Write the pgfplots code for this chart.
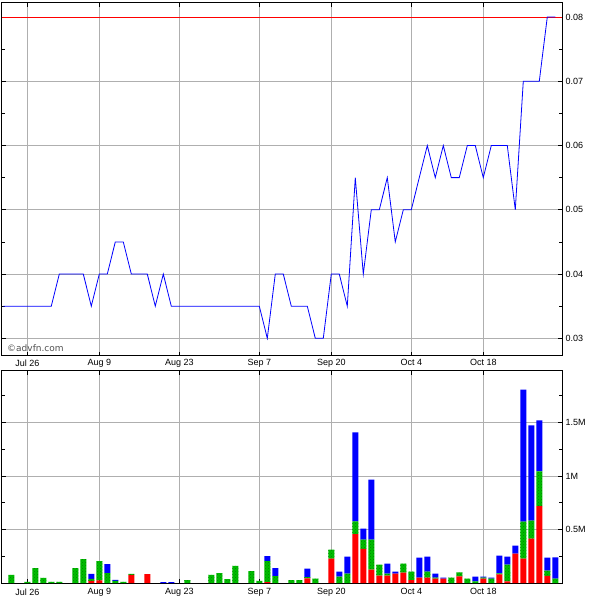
\documentclass[border=0pt]{standalone}
\usepackage{pgfplots}
\pgfplotsset{compat=1.18}
\usepackage{pgfplotstable}
\usetikzlibrary{patterns}
\usepackage{fontspec}
\setmainfont{Liberation Sans}
\setsansfont{Liberation Sans}
\newfontfamily\dejavu{DejaVu Sans}
\definecolor{vgreen}{RGB}{0,190,0}
\definecolor{vdots}{RGB}{0,130,0}
\definecolor{gridc}{RGB}{175,175,175}
\definecolor{copyc}{RGB}{80,80,80}

\pgfplotstableread{
k p
0 0.035
1 0.035
2 0.035
3 0.035
4 0.035
5 0.035
6 0.035
7 0.04
8 0.04
9 0.04
10 0.04
11 0.035
12 0.04
13 0.04
14 0.045
15 0.045
16 0.04
17 0.04
18 0.04
19 0.035
20 0.04
21 0.035
22 0.035
23 0.035
24 0.035
25 0.035
26 0.035
27 0.035
28 0.035
29 0.035
30 0.035
31 0.035
32 0.035
33 0.03
34 0.04
35 0.04
36 0.035
37 0.035
38 0.035
39 0.03
40 0.03
41 0.04
42 0.04
43 0.035
44 0.055
45 0.04
46 0.05
47 0.05
48 0.055
49 0.045
50 0.05
51 0.05
52 0.055
53 0.06
54 0.055
55 0.06
56 0.055
57 0.055
58 0.06
59 0.06
60 0.055
61 0.06
62 0.06
63 0.06
64 0.05
65 0.07
66 0.07
67 0.07
68 0.08
69 0.08
}\price

\pgfplotstableread{
k r g b
0 0 0 0
1 0 0.075 0
2 0 0 0
3 0 0.01 0
4 0 0.14 0
5 0 0.047 0
6 0 0.01 0
7 0 0.01 0
8 0 0 0
9 0 0.14 0
10 0 0.224 0
11 0.019 0.019 0.047
12 0.025 0.18 0
13 0 0.093 0.084
14 0 0.019 0.01
15 0 0.01 0
16 0.075 0.01 0
17 0 0 0
18 0.084 0 0
19 0 0 0
20 0 0 0.008
21 0 0 0.008
22 0 0 0
23 0 0.028 0
24 0 0 0
25 0 0 0
26 0 0.075 0
27 0 0.093 0
28 0 0.037 0
29 0 0.159 0
30 0 0 0
31 0 0.112 0
32 0 0.019 0
33 0.008 0.196 0.047
34 0 0.065 0.075
35 0 0 0
36 0 0.028 0
37 0 0.028 0
38 0.044 0.01 0.081
39 0 0.04 0
40 0 0 0
41 0.227 0.084 0
42 0 0.06 0.047
43 0 0.087 0.159
44 0.456 0.119 0.832
45 0.32 0.085 0.103
46 0.125 0.28 0.562
47 0.069 0.103 0
48 0.069 0.019 0.093
49 0.087 0 0.019
50 0.097 0.084 0
51 0.028 0.078 0
52 0.05 0 0.187
53 0.05 0.056 0.14
54 0.04 0.01 0.037
55 0.04 0 0.01
56 0 0.05 0
57 0.062 0.037 0
58 0 0.04 0
59 0 0.016 0.044
60 0.04 0.01 0.01
61 0 0.04 0.01
62 0.081 0.01 0.165
63 0.016 0.156 0.075
64 0.274 0 0.075
65 0.227 0.346 1.235
66 0.414 0.169 0.889
67 0.718 0.324 0.477
68 0.066 0.05 0.121
69 0 0.04 0.2
}\vol

\pgfplotsset{
  advstyle/.style={
    scale only axis,
    width=560pt,
    xmin=-0.1625, xmax=69.84,
    xtick={3,12,22,32,41,51,60},
    grid=major,
    major grid style={gridc, line width=0.7pt},
    axis line style={line width=1pt},
    tick style={black, line width=0.6pt},
    major tick length=4pt, minor tick length=3pt,
    ticklabel style={font=\fontsize{9}{10}\selectfont},
    yticklabel pos=right,
    /pgf/number format/assume math mode=true,
  }
}

\begin{document}
\begin{tikzpicture}[x=1pt,y=1pt]
\path[use as bounding box] (0,0) rectangle (600,600);

\begin{axis}[advstyle,
  at={(2pt,244pt)}, anchor=south west, height=353pt,
  ymin=0.027245, ymax=0.08218,
  xticklabels={Jul 26,Aug 9,Aug 23,Sep 7,Sep 20,Oct 4,Oct 18},
  ytick={0.03,0.04,0.05,0.06,0.07,0.08},
  yticklabels={0.03,0.04,0.05,0.06,0.07,0.08},
  minor ytick={0.035,0.045,0.055,0.065,0.075},
]
\addplot[red, line width=0.8pt] coordinates {(-0.1625,0.08) (69.84,0.08)};
\addplot[blue, line width=0.8pt, mark=none] table[x=k,y=p]{\price};
\node[anchor=base west, text=copyc, font=\dejavu\fontsize{9}{10}\selectfont, inner sep=0pt]
  at (rel axis cs:0,0) [xshift=5pt, yshift=4pt] {©advfn.com};
\end{axis}

\begin{axis}[advstyle,
  at={(2pt,17pt)}, anchor=south west, height=212.3pt,
  ymin=0, ymax=1.984,
  ybar stacked, bar width=6pt,
  xticklabels={Jul 26,Aug 9,Aug 23,Sep 7,Sep 20,Oct 4,Oct 18},
  xticklabel style={yshift=-2pt},
  ytick={0.5,1,1.5},
  yticklabels={0.5M,1M,1.5M},
  minor ytick={0.25,0.75,1.25,1.75},
]
\addplot[fill=red, draw=none] table[x=k,y=r]{\vol};
\addplot[fill=vgreen, draw=none, postaction={pattern=crosshatch dots, pattern color=vdots}] table[x=k,y=g]{\vol};
\addplot[fill=blue, draw=none] table[x=k,y=b]{\vol};
\end{axis}
\end{tikzpicture}
\end{document}
